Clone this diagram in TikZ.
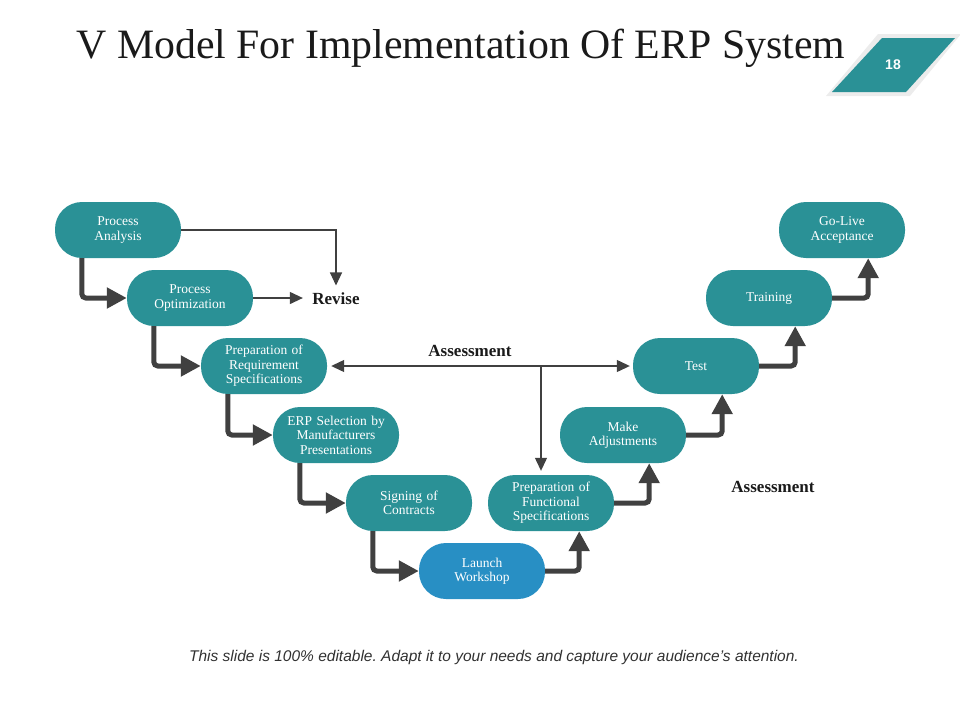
\documentclass[tikz,border=0pt]{standalone}
\usepackage{fontspec}
\setmainfont{Liberation Serif}
\setsansfont{Liberation Sans}
\usetikzlibrary{arrows.meta,positioning,calc}
\definecolor{stagecolor}{RGB}{42,145,150}
\definecolor{launchcolor}{RGB}{40,143,196}
\definecolor{linkcolor}{RGB}{64,64,64}
\definecolor{titlecolor}{RGB}{26,26,26}
\frenchspacing

\begin{document}
\begin{tikzpicture}[x=1pt, y=-1pt,
  stage/.style={rounded corners=27pt, fill=#1, minimum width=126pt,
                minimum height=56pt, text width=112pt, align=center, text=white,
                font=\fontsize{13.5}{14.5}\selectfont},
  stage/.default=stagecolor,
  flow/.style={draw=linkcolor, line width=5pt, rounded corners=4pt,
               -{Triangle[length=20pt,width=20pt]}},
  link/.style={draw=linkcolor, line width=1.2pt},
  tag/.style={font=\fontsize{17}{20}\selectfont\bfseries, text=titlecolor}]

  \useasboundingbox (0,0) rectangle (960,720);

  \node[anchor=base west, font=\fontsize{41.8}{46}\selectfont, text=titlecolor]
       (title) at (73,58) {V Model For Implementation Of ERP System};

  \fill[gray!15] (878,34) -- (961,34) -- (910,96) -- (826,96) -- cycle;
  \fill[stagecolor] (882,38) -- (955,38) -- (906,92) -- (832,92) -- cycle;
  \node[text=white, font=\sffamily\bfseries\fontsize{14}{16}\selectfont]
       (pageno) at (893,65) {18};

  \node[stage] (analysis) at (118,230) {Process\\Analysis};
  \node[stage] (optim)    at (190,298) {Process\\Optimization};
  \node[stage] (reqspec)  at (264,366) {Preparation of\\Requirement\\Specifications};
  \node[stage] (erpsel)   at (336,435) {ERP Selection by\\Manufacturers\\Presentations};
  \node[stage] (signing)  at (409,503) {Signing of\\Contracts};
  \node[stage=launchcolor] (launch) at (482,571) {Launch\\Workshop};
  \node[stage] (funcspec) at (551,503) {Preparation of\\Functional\\Specifications};
  \node[stage] (adjust)   at (623,435) {Make\\Adjustments};
  \node[stage] (test)     at (696,366) {Test};
  \node[stage] (training) at (769,298) {Training};
  \node[stage] (golive)   at (842,230) {Go-Live\\Acceptance};

  \node[tag] (revise)  at (336,299) {Revise};
  \node[tag] (assessA) at (470,351) {Assessment};
  \node[tag] (assessB) at (773,487) {Assessment};

  \draw[flow] ([xshift=27pt]analysis.south west) |- (optim.west);
  \draw[flow] ([xshift=27pt]optim.south west)    |- (reqspec.west);
  \draw[flow] ([xshift=27pt]reqspec.south west)  |- (erpsel.west);
  \draw[flow] ([xshift=27pt]erpsel.south west)   |- (signing.west);
  \draw[flow] ([xshift=27pt]signing.south west)  |- (launch.west);

  \draw[flow] (launch.east)   -| ([xshift=-35pt]funcspec.south east);
  \draw[flow] (funcspec.east) -| ([xshift=-37pt]adjust.south east);
  \draw[flow] (adjust.east)   -| ([xshift=-37pt]test.south east);
  \draw[flow] (test.east)     -| ([xshift=-37pt]training.south east);
  \draw[flow] (training.east) -| ([xshift=-37pt]golive.south east);

  \draw[link, -{Triangle[length=13pt,width=12pt]}, shorten >=4pt]
       (analysis.east) -| (revise.north);
  \draw[link, -{Triangle[length=13pt,width=12pt]}, shorten >=6pt]
       (optim.east) -- (optim.east -| revise.west);
  \draw[link, {Triangle[length=13pt,width=12pt]}-{Triangle[length=13pt,width=12pt]},
        shorten <=4pt, shorten >=3pt] (reqspec.east) -- (test.west);
  \coordinate (split) at (541,366);
  \draw[link, -{Triangle[length=13pt,width=12pt]}, shorten >=4pt]
       (split) -- (split |- funcspec.north);

  \node[font=\sffamily\itshape\fontsize{15.5}{18}\selectfont, text=titlecolor!90]
       (footer) at (494,657)
       {This slide is 100\% editable. Adapt it to your needs and capture your audience's attention.};
\end{tikzpicture}
\end{document}
